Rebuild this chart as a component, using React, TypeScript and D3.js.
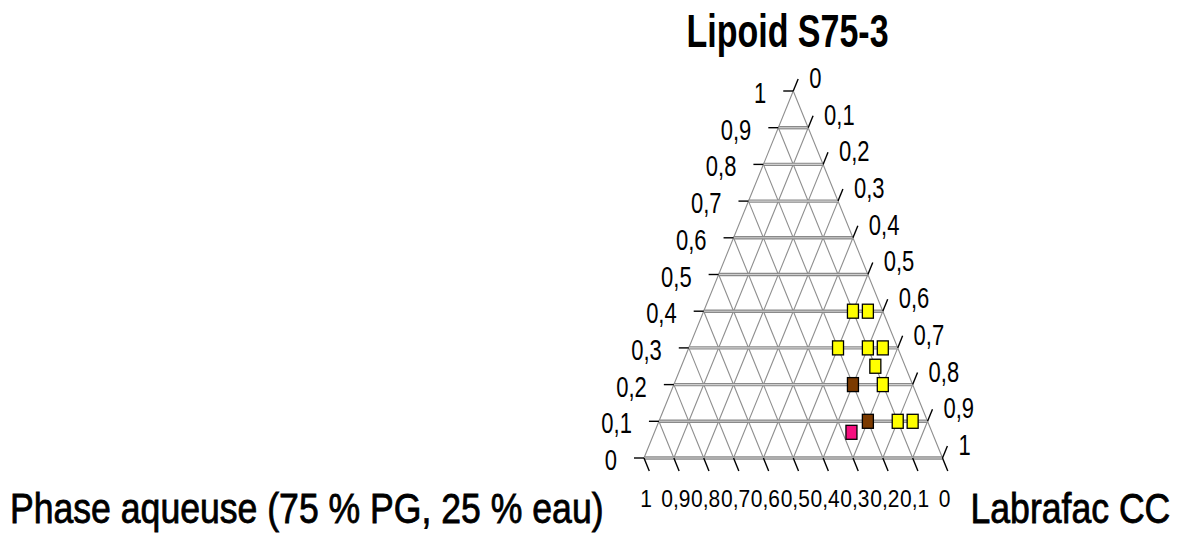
import React from "react";
import * as d3 from "d3";

// ---- Data ----
const title = "Lipoid S75-3";
const labelLeft = "Phase aqueuse (75 % PG, 25 % eau)";
const labelRight = "Labrafac CC";
const tickValues = [0, 0.1, 0.2, 0.3, 0.4, 0.5, 0.6, 0.7, 0.8, 0.9, 1];

// Composition of each formulation (fractions)
const lipoid = [0.4, 0.4, 0.3, 0.3, 0.3, 0.25, 0.2, 0.2, 0.1, 0.1, 0.1, 0.07];
const labrafac = [0.5, 0.55, 0.5, 0.6, 0.65, 0.65, 0.6, 0.7, 0.7, 0.8, 0.85, 0.66];
const aqueuse = [0.1, 0.05, 0.2, 0.1, 0.05, 0.1, 0.2, 0.1, 0.2, 0.1, 0.05, 0.27];
const aspect = ["jaune", "jaune", "jaune", "jaune", "jaune", "jaune", "marron", "jaune", "marron", "jaune", "jaune", "rose"];

const aspectColor: Record<string, string> = {
  jaune: "#ffff00",
  marron: "#7b3a00",
  rose: "#f5107f",
};

const FONT = "'Liberation Sans', Arial, Helvetica, sans-serif";

export default function App() {
  const W = 1184;
  const H = 536;
  // horizontal position ~ (c + a/2), vertical ~ a
  const xs = d3.scaleLinear().domain([0, 1]).range([644, 942.5]);
  const ys = d3.scaleLinear().domain([0, 1]).range([458, 91]);
  const proj = (a: number, b: number, c: number) => {
    const s = a + b + c;
    return [xs(c / s + a / s / 2), ys(a / s)] as [number, number];
  };

  const A = proj(1, 0, 0);
  const B = proj(0, 1, 0);
  const C = proj(0, 0, 1);
  const unit = (p: [number, number], q: [number, number]) => {
    const dx = q[0] - p[0];
    const dy = q[1] - p[1];
    const l = Math.hypot(dx, dy);
    return [dx / l, dy / l];
  };
  const dirRight = unit(B, A); // ticks on right edge: parallel to left edge, outward
  const dirBottom = unit(A, C); // ticks on base: parallel to right edge, outward
  const fmt = (v: number) => String(v).replace(".", ",");

  const line = d3.line();

  const hLines = tickValues.map((a) => {
    const p1 = proj(a, 1 - a, 0);
    const p2 = proj(a, 0, 1 - a);
    return { a, p1, p2 };
  });
  const bLines = tickValues.map((b) => ({ p1: proj(1 - b, b, 0), p2: proj(0, b, 1 - b) }));
  const cLines = tickValues.map((c) => ({ p1: proj(1 - c, 0, c), p2: proj(0, 1 - c, c) }));

  const sqW = 11;
  const sqH = 14;

  return (
    <svg width={W} height={H} style={{ position: "absolute", left: 0, top: 0, background: "#fff" }}>
      <rect x={0} y={0} width={W} height={H} fill="#fff" />
      {/* diagonal grid */}
      <g stroke="#8e8e8e" strokeWidth={1.1} fill="none">
        {bLines.map((l, i) => (
          <path key={"b" + i} d={line([l.p1, l.p2]) || ""} />
        ))}
        {cLines.map((l, i) => (
          <path key={"c" + i} d={line([l.p1, l.p2]) || ""} />
        ))}
      </g>
      {/* horizontal grid */}
      <g fill="none">
        {hLines.map((l, i) =>
          i === tickValues.length - 1 ? null : (
            <g key={"h" + i}>
              <path d={line([l.p1, l.p2]) || ""} stroke="#8a8a8a" strokeWidth={3.4} />
              <path d={line([l.p1, l.p2]) || ""} stroke="#cfcfcf" strokeWidth={1.1} />
            </g>
          )
        )}
      </g>
      {/* ticks */}
      <g stroke="#000" strokeWidth={1.4} fill="none">
        {tickValues.map((a, i) => {
          const p = proj(a, 1 - a, 0);
          return <path key={"tl" + i} d={line([[p[0] - 10, p[1]], p]) || ""} />;
        })}
        {tickValues.map((c, i) => {
          const p = proj(1 - c, 0, c);
          return (
            <path key={"tr" + i} d={line([p, [p[0] + dirRight[0] * 13, p[1] + dirRight[1] * 13]]) || ""} />
          );
        })}
        {tickValues.map((b, i) => {
          const p = proj(0, b, 1 - b);
          return (
            <path key={"tb" + i} d={line([p, [p[0] + dirBottom[0] * 14, p[1] + dirBottom[1] * 14]]) || ""} />
          );
        })}
      </g>
      {/* tick labels */}
      <g fontFamily={FONT} fill="#000">
        {tickValues.map((a, i) => {
          const p = proj(a, 1 - a, 0);
          return (
            <text key={"ll" + i} fontSize={22} textAnchor="end" transform={`translate(${p[0] - 27},${p[1] + 12}) scale(1,1.3)`}>
              {fmt(a)}
            </text>
          );
        })}
        {tickValues.map((c, i) => {
          const p = proj(1 - c, 0, c);
          const e = [p[0] + dirRight[0] * 13, p[1] + dirRight[1] * 13];
          return (
            <text key={"rl" + i} fontSize={22} textAnchor="start" transform={`translate(${e[0] + 11},${e[1] + 9}) scale(1,1.3)`}>
              {fmt(c)}
            </text>
          );
        })}
        {tickValues.map((b, i) => {
          const p = proj(0, b, 1 - b);
          return (
            <text key={"bl" + i} fontSize={21} textAnchor="middle" transform={`translate(${p[0] + 2},506.7) scale(1,1.12)`}>
              {fmt(b)}
            </text>
          );
        })}
      </g>
      {/* points */}
      <g stroke="#000" strokeWidth={1.3}>
        {lipoid.map((a, i) => {
          const [x, y] = proj(a, aqueuse[i], labrafac[i]);
          return (
            <rect key={"pt" + i} x={x - sqW / 2} y={y - sqH / 2} width={sqW} height={sqH} fill={aspectColor[aspect[i]]} />
          );
        })}
      </g>
      {/* titles */}
      <g fontFamily={FONT} fill="#000">
        <text fontSize={34} fontWeight="bold" textAnchor="middle" transform={`translate(787.5,46.7) scale(1,1.37)`}>
          {title}
        </text>
        <text fontSize={35.6} textAnchor="start" stroke="#000" strokeWidth={0.7} transform={`translate(10,522.5) scale(1,1.17)`}>
          {labelLeft}
        </text>
        <text fontSize={35.6} textAnchor="start" stroke="#000" strokeWidth={0.7} transform={`translate(970.5,522.5) scale(1,1.17)`}>
          {labelRight}
        </text>
      </g>
    </svg>
  );
}
